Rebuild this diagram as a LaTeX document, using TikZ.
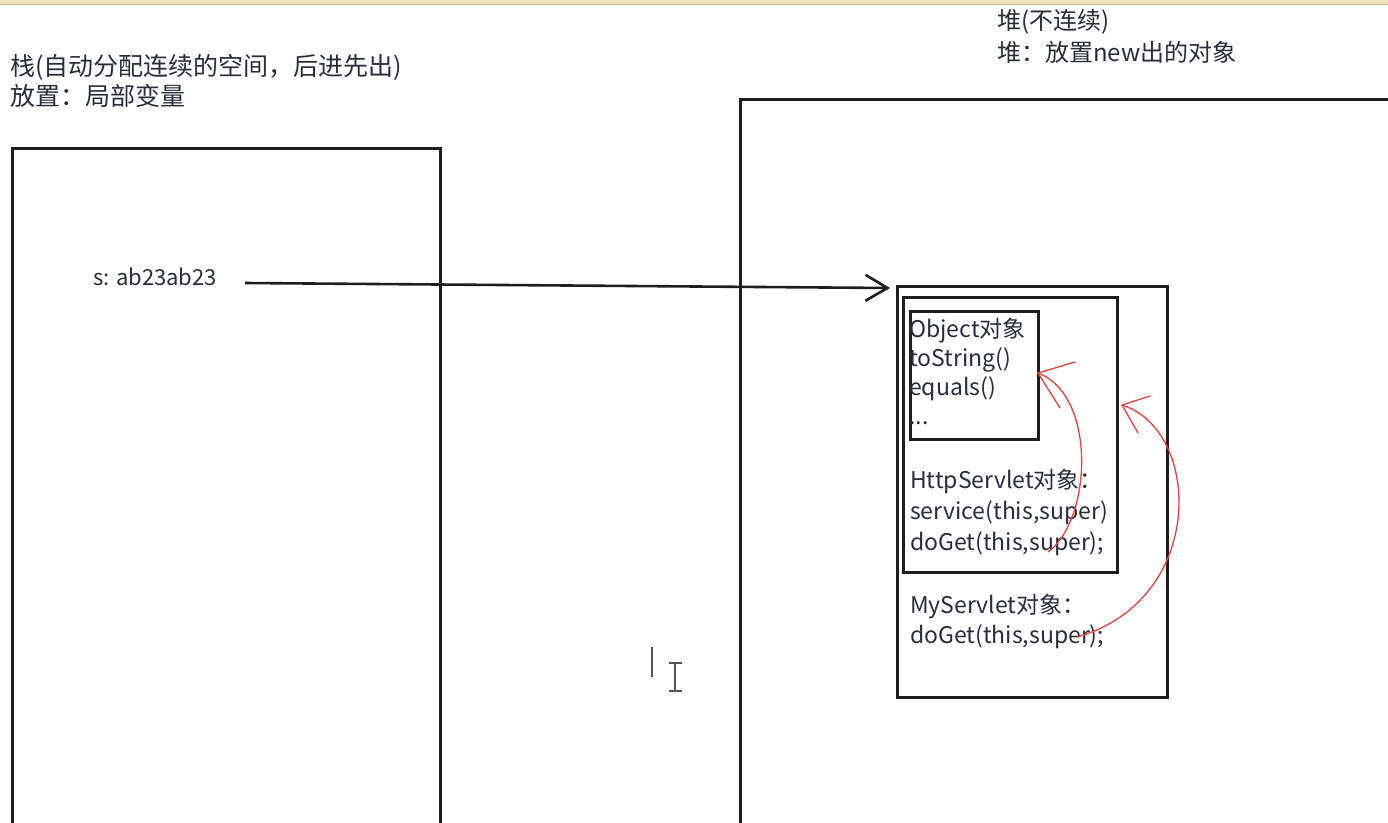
\documentclass[tikz,border=0pt]{standalone}
\usepackage{fontspec}
\setmainfont{Noto Sans CJK SC}
\usetikzlibrary{arrows.meta}
\definecolor{ink}{HTML}{1E1E1E}
\definecolor{txtc}{HTML}{2A2D36}
\definecolor{pen}{HTML}{E8413A}
\definecolor{band}{RGB}{240,224,186}
\definecolor{bandline}{RGB}{205,186,146}
\definecolor{curs}{HTML}{555555}
\tikzset{
  txt/.style={anchor=base west, inner sep=0pt, text=txtc, font=\fontsize{24}{24}\selectfont},
  head/.style={txt, font=\fontsize{25}{25}\selectfont},
  boxtxt/.style={txt, font=\fontsize{23}{23}\selectfont},
  boxline/.style={draw=ink, line width=3pt, inner sep=0pt, outer sep=0pt, anchor=north west},
  redpen/.style={draw=pen, line width=1.3pt, line cap=round, line join=round},
  ptr/.style={draw=ink, line width=2.6pt, -{Straight Barb[length=22pt,width=26pt]}},
  cursorline/.style={draw=curs, line width=1.6pt}
}
\begin{document}
\begin{tikzpicture}[x=1pt,y=-1pt]
\useasboundingbox (0,0) rectangle (1388,822);
\begin{scope}
  \clip (0,0) rectangle (1388,822);
  \fill[band] (0,0) rectangle (1388,4);
  \draw[bandline, line width=1pt] (0,4.5) -- (1388,4.5);
  % stack area
  \draw[boxline] (12,840) -- (12,148) -- (440,148) -- (440,840);
  % heap area
  \draw[boxline] (740,840) -- (740,99) -- (1400,99);
\end{scope}

% headings
\node[head] (stackt1) at (10,75) {栈(自动分配连续的空间，后进先出)};
\node[head] (stackt2) at (10,105) {放置：局部变量};
\node[txt] (heapt1) at (997,29) {堆(不连续)};
\node[txt] (heapt2) at (997,61) {堆：放置new出的对象};

% reference variable
\node[txt, font=\fontsize{22}{22}\selectfont] (sref) at (93,285) {s: ab23ab23};

% object boxes
\node[boxline, minimum width=270pt, minimum height=411pt] (outer) at (897,286) {};
\node[boxline, minimum width=214pt, minimum height=275pt] (http) at (903,297) {};
\node[boxline, minimum width=128pt, minimum height=128pt] (obj) at (910,311) {};

% object texts
\node[boxtxt] (o1) at (909,337) {Object对象};
\node[boxtxt] (o2) at (909,366) {toString()};
\node[boxtxt] (o3) at (909,395) {equals()};
\node[boxtxt] (o4) at (909,424) {...};
\node[boxtxt] (h1) at (910,488) {HttpServlet对象：};
\node[boxtxt] (h2) at (910,519) {service(this,super)};
\node[boxtxt] (h3) at (910,550) {doGet(this,super);};
\node[boxtxt] (m1) at (910,613) {MyServlet对象：};
\node[boxtxt] (m2) at (910,643) {doGet(this,super);};

% pointer arrow
\coordinate (pstart) at (245,283);
\draw[ptr] (pstart) -- ([xshift=-7pt,yshift=-2pt]outer.north west);

% red hand-drawn arrows
\coordinate (r1s) at (1048,552);
\coordinate (r1t) at (1038,373);
\draw[redpen] (r1s) .. controls (1092,520) and (1097,395) .. (r1t);
\draw[redpen] (r1t) -- ++(37,-11);
\draw[redpen] (r1t) -- ++(22,35);

\coordinate (r2s) at (1077,637);
\coordinate (r2t) at (1122,405);
\draw[redpen] (r2s) .. controls (1207,600) and (1202,430) .. (r2t);
\draw[redpen] (r2t) -- ++(28,-9);
\draw[redpen] (r2t) -- ++(16,28);

% text cursor marks
\draw[cursorline] (652,647) -- (652,677);
\draw[cursorline] (675,663) -- (675,691);
\draw[cursorline] (669,663) -- (682,663);
\draw[cursorline] (669,691) -- (682,691);
\end{tikzpicture}
\end{document}
